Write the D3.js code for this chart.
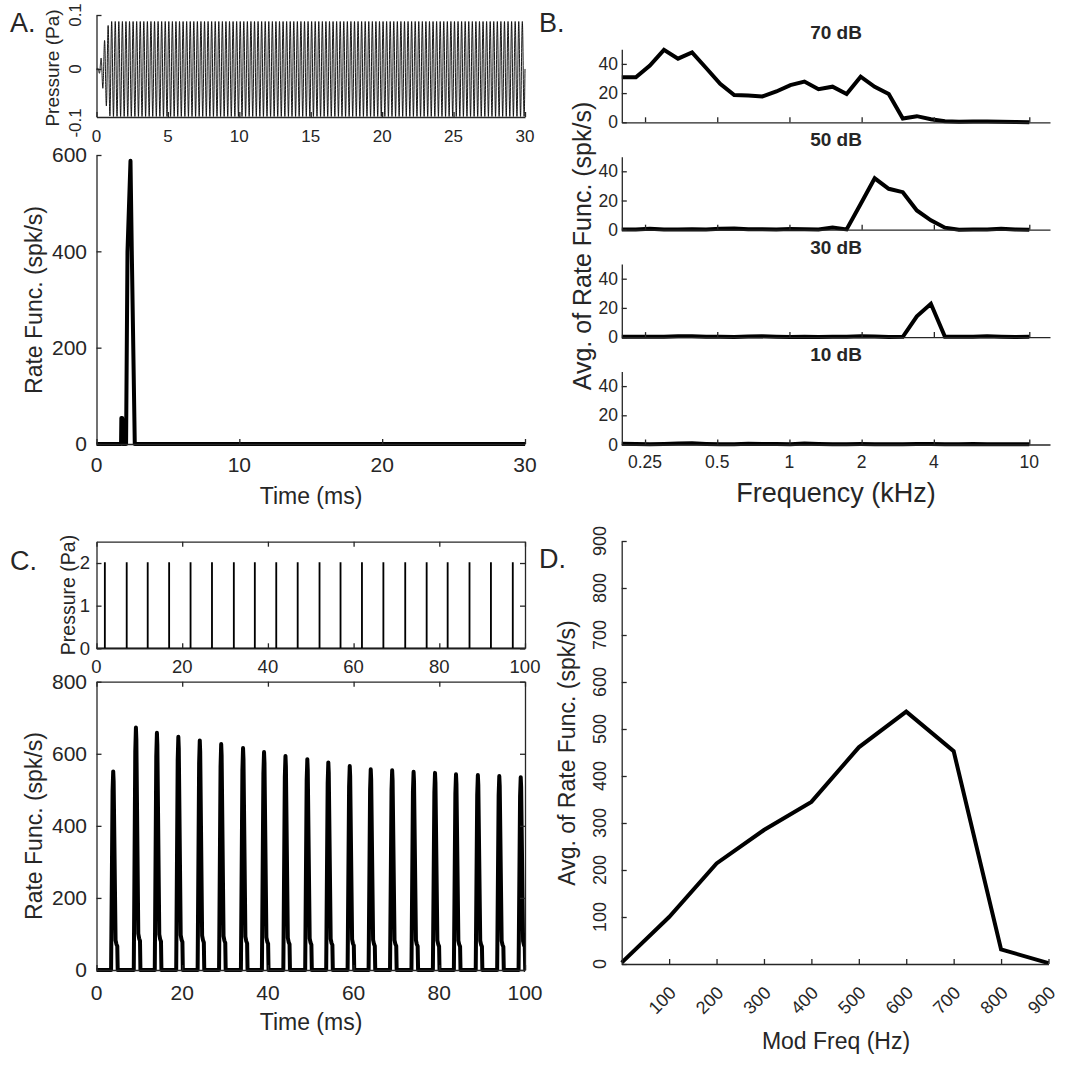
<!DOCTYPE html>
<html>
<head>
<meta charset="utf-8">
<script src="https://cdn.jsdelivr.net/npm/d3@7"></script>
<style>
  body { margin: 0; background: #fff; }
  svg text { font-family: "Liberation Sans", Arial, sans-serif; fill: #262626; }
</style>
</head>
<body>
<svg id="fig" width="1065" height="1065"></svg>
<script>
// ---------- A. tone stimulus + onset response
const toneFreqKHz = 4;      // tone at CF
const toneAmpPa = 0.088;
const toneRampMs = 1;
const pressureTicksA = [-0.1, 0, 0.1];
const timeTicksA = [0, 5, 10, 15, 20, 25, 30];
const rateTimeA = [0, 1.72, 1.74, 1.80, 1.83, 2.07, 2.17, 2.38, 2.47, 2.68, 30];
const rateA     = [0, 0,    54,   54,   0,    0,    400,  588,  400,  0,    0];
const rateTicksA = [0, 200, 400, 600];
const timeTicksA2 = [0, 10, 20, 30];

// ---------- B. tuning curves at 4 levels
const freqB = [0.2, 0.2289, 0.2619, 0.2998, 0.3431, 0.3926, 0.4493, 0.5142, 0.5884, 0.6734,
               0.7706, 0.8819, 1.0093, 1.155, 1.3218, 1.5127, 1.7311, 1.9811, 2.2671, 2.5945,
               2.9691, 3.3979, 3.8885, 4.45, 5.0926, 5.828, 6.6696, 7.6327, 8.7348, 10];
const levelsB = ["70 dB", "50 dB", "30 dB", "10 dB"];
const rate70 = [30.8, 30.8, 38.8, 49.6, 43.6, 47.8, 37.2, 26.4, 18.7, 18.3, 17.7, 21.1, 25.5, 27.9, 22.7,
                24.4, 19.4, 31.2, 24.3, 19.4, 2.6, 4.2, 2.1, 0.8, 0.3, 0.5, 0.5, 0.4, 0.2, 0];
const rate50 = [0.2, 0.1, 0.6, 0.2, 0.1, 0.3, 0.1, 0.7, 0.9, 0.3, 0.3, 0.2, 0.4, 0.3, 0.2,
                1.5, 0.2, 17.6, 35.2, 28, 25.7, 13.2, 6.4, 1.4, 0, 0.2, 0.2, 0.6, 0.1, 0];
const rate30 = [0.3, 0.2, 0.2, 0.2, 0.5, 0.6, 0.3, 0.2, 0.1, 0.4, 0.5, 0.2, 0.1, 0.3, 0.1,
                0.2, 0.2, 0.5, 0.4, 0.1, 0.2, 14.2, 22.8, 0.3, 0.2, 0.3, 0.5, 0.2, 0.1, 0.2];
const rate10 = [0.5, 0.3, 0.2, 0.4, 0.6, 0.8, 0.4, 0.1, 0.2, 0.5, 0.4, 0.3, 0.2, 0.6, 0.3,
                0.1, 0.2, 0.3, 0.2, 0.1, 0.2, 0.4, 0.3, 0.2, 0.1, 0.3, 0.2, 0.2, 0.1, 0.2];
const ratesB = [rate70, rate50, rate30, rate10];
const freqTicksB = [0.25, 0.5, 1, 2, 4, 10];
const rateTicksB = [0, 20, 40];

// ---------- C. click train + response
const clickTimesC = [1.9, 7, 11.9, 16.9, 21.9, 26.9, 32, 36.9, 41.9, 46.9,
                     52, 56.9, 61.9, 66.9, 72, 77, 81.9, 87, 92, 97.1];
const clickAmpC = 2;
const clickWidthMs = 0.1;
const pressureTicksC = [0, 1, 2];
const peakTimesC = [3.9, 9.2, 14.1, 19.1, 24.1, 29.1, 34.2, 39.1, 44.1, 49.2,
                    54.1, 59.1, 64.0, 69.0, 74.0, 79.0, 83.9, 89.0, 94.0, 99.0];
const peakRatesC = [551, 673, 658, 647, 637, 627, 616, 605, 594, 585,
                    576, 566, 557, 554, 550, 547, 543, 541, 538, 535];
// shape of one response pulse around its peak (ms offset, fraction of peak)
const pulseShapeMs   = [-0.5, -0.15, 0, 0.1, 0.55, 0.75, 0.95, 1.05];
const pulseShapeFrac = [0,    0.9,   1, 0.95, 0.15, 0.13, 0.12, 0];
const timeTicksC = [0, 20, 40, 60, 80, 100];
const rateTicksC = [0, 200, 400, 600, 800];

// ---------- D. modulation transfer
const modFreqD = [0, 100, 200, 300, 400, 500, 600, 700, 800, 900];
const avgRateD = [3, 100, 214, 285, 345, 461, 537, 453, 31, 2];
const modTicksD = [100, 200, 300, 400, 500, 600, 700, 800, 900];
const rateTicksD = [0, 100, 200, 300, 400, 500, 600, 700, 800, 900];

const svg = d3.select("#fig");
const axisColor = "#262626";

function axes(g, x, y, o) {
  const [x0, x1] = x.range(), [y0, y1] = y.range();
  g.append("g").attr("transform", `translate(0,${y0})`)
    .call(d3.axisBottom(x).tickValues(o.xTicks).tickSize(-5).tickSizeOuter(0).tickFormat(""));
  g.append("g").attr("transform", `translate(${x0},0)`)
    .call(d3.axisLeft(y).tickValues(o.yTicks).tickSize(-5).tickSizeOuter(0).tickFormat(""));
  if (o.box) {
    g.append("g").attr("transform", `translate(0,${y1})`)
      .call(d3.axisTop(x).tickValues(o.xTicks).tickSize(-5).tickSizeOuter(0).tickFormat(""));
    g.append("g").attr("transform", `translate(${x1},0)`)
      .call(d3.axisRight(y).tickValues(o.yTicks).tickSize(-5).tickSizeOuter(0).tickFormat(""));
  }
  g.selectAll(".domain, .tick line").attr("stroke", axisColor).attr("stroke-width", 1.3);
}

function xLabels(g, x, vals, yBase, size) {
  g.selectAll(null).data(vals).join("text")
    .attr("x", d => x(d)).attr("y", yBase)
    .attr("text-anchor", "middle").attr("font-size", size)
    .text(d => String(d));
}
function yLabels(g, y, vals, xRight, size) {
  g.selectAll(null).data(vals).join("text")
    .attr("x", xRight).attr("y", d => y(d)).attr("dy", "0.35em")
    .attr("text-anchor", "end").attr("font-size", size)
    .text(d => String(d));
}
function yLabelsRot(g, y, vals, xc, size) {
  g.selectAll(null).data(vals).join("text")
    .attr("transform", d => `translate(${xc},${y(d)}) rotate(-90)`).attr("dy", "0.35em")
    .attr("text-anchor", "middle").attr("font-size", size)
    .text(d => String(d));
}
function title(g, txt, xc, yc, size, rot, weight) {
  g.append("text")
    .attr("transform", `translate(${xc},${yc})` + (rot ? " rotate(-90)" : ""))
    .attr("dy", rot ? "0.35em" : 0)
    .attr("text-anchor", "middle").attr("font-size", size)
    .attr("font-weight", weight || "normal")
    .text(txt);
}
function clip(id, x, y) {
  svg.append("clipPath").attr("id", id).append("rect")
    .attr("x", x.range()[0] - 3).attr("y", y.range()[1] - 3)
    .attr("width", x.range()[1] - x.range()[0] + 3)
    .attr("height", y.range()[0] - y.range()[1] + 6);
  return `url(#${id})`;
}

// ===== A. pressure
const gA1 = svg.append("g");
const xA = d3.scaleLinear().domain([0, 30]).range([96.5, 525]);
const yA1 = d3.scaleLinear().domain([-0.089, 0.1]).range([117, 15]);
const toneT = d3.range(0, 30.0001, 0.004);
const tone = toneT.map(t => {
  const env = t < toneRampMs ? Math.pow(Math.sin(Math.PI * t / (2 * toneRampMs)), 2) : 1;
  return [t, toneAmpPa * env * Math.sin(2 * Math.PI * toneFreqKHz * t)];
});
gA1.append("path").datum(tone)
  .attr("d", d3.line().x(d => xA(d[0])).y(d => yA1(d[1])))
  .attr("fill", "none").attr("stroke", "#000").attr("stroke-width", 0.9);
axes(gA1, xA, yA1, {xTicks: timeTicksA, yTicks: [0, 0.1]});
xLabels(gA1, xA, timeTicksA, 142, 17);
yLabelsRot(gA1, yA1, pressureTicksA, 75, 17);
title(gA1, "Pressure (Pa)", 52, 68, 19, true);

// ===== A. rate
const gA2 = svg.append("g");
const yA2 = d3.scaleLinear().domain([0, 600]).range([444, 155]);
gA2.append("path").datum(d3.zip(rateTimeA, rateA))
  .attr("d", d3.line().x(d => xA(d[0])).y(d => yA2(d[1])))
  .attr("fill", "none").attr("stroke", "#000").attr("stroke-width", 4)
  .attr("stroke-linejoin", "round");
axes(gA2, xA, yA2, {xTicks: timeTicksA2, yTicks: rateTicksA});
xLabels(gA2, xA, timeTicksA2, 472, 21);
yLabels(gA2, yA2, rateTicksA, 87, 21);
title(gA2, "Rate Func. (spk/s)", 34, 300, 23, true);
title(gA2, "Time (ms)", 311, 504, 23, false);

// ===== B. tuning at levels
const xB = d3.scaleLog().domain([0.2, 12.2]).range([621.8, 1050]);
const bTop = 49.3, bStep = 107.4, bH = 73;
levelsB.forEach((lev, i) => {
  const g = svg.append("g");
  const top = bTop + i * bStep;
  const y = d3.scaleLinear().domain([0, 50]).range([top + bH, top]);
  g.append("path").datum(d3.zip(freqB, ratesB[i]))
    .attr("d", d3.line().x(d => xB(d[0])).y(d => y(d[1])))
    .attr("fill", "none").attr("stroke", "#000").attr("stroke-width", 4);
  axes(g, xB, y, {xTicks: freqTicksB, yTicks: rateTicksB});
  yLabels(g, y, rateTicksB, 618, 17.5);
  title(g, lev, 836, top - 10.5, 19, false, "bold");
  if (i === levelsB.length - 1) xLabels(g, xB, freqTicksB, 468, 17.5);
});
title(svg, "Avg. of Rate Func. (spk/s)", 582, 246, 25, true);
title(svg, "Frequency (kHz)", 836, 502, 27, false);

// ===== C. click pressure
const gC1 = svg.append("g");
const xC = d3.scaleLinear().domain([0, 100]).range([96.5, 525]);
const yC1 = d3.scaleLinear().domain([0, 2.5]).range([648.3, 541.7]);
const clickPts = [[0, 0]];
clickTimesC.forEach(t => {
  clickPts.push([t, 0], [t, clickAmpC], [t + clickWidthMs, clickAmpC], [t + clickWidthMs, 0]);
});
clickPts.push([100, 0]);
gC1.append("path").datum(clickPts)
  .attr("d", d3.line().x(d => xC(d[0])).y(d => yC1(d[1])))
  .attr("fill", "none").attr("stroke", "#000").attr("stroke-width", 1.4);
axes(gC1, xC, yC1, {xTicks: timeTicksC, yTicks: pressureTicksC, box: true});
xLabels(gC1, xC, timeTicksC, 673, 18.5);
yLabels(gC1, yC1, pressureTicksC, 90, 18.5);
title(gC1, "Pressure (Pa)", 68, 595, 19.5, true);

// ===== C. rate
const gC2 = svg.append("g");
const yC2 = d3.scaleLinear().domain([0, 800]).range([970, 681.7]);
const pulsePts = [[0, 0]];
peakTimesC.forEach((tp, k) => {
  pulseShapeMs.forEach((dt, j) => pulsePts.push([tp + dt, pulseShapeFrac[j] * peakRatesC[k]]));
});
pulsePts.push([100.5, 0]);
gC2.append("path").datum(pulsePts)
  .attr("clip-path", clip("clipC2", xC, yC2))
  .attr("d", d3.line().x(d => xC(d[0])).y(d => yC2(d[1])))
  .attr("fill", "none").attr("stroke", "#000").attr("stroke-width", 4)
  .attr("stroke-linejoin", "round");
axes(gC2, xC, yC2, {xTicks: timeTicksC, yTicks: rateTicksC, box: true});
xLabels(gC2, xC, timeTicksC, 1000, 21);
yLabels(gC2, yC2, rateTicksC, 87, 21);
title(gC2, "Rate Func. (spk/s)", 34, 826, 23, true);
title(gC2, "Time (ms)", 311, 1030, 23, false);

// ===== D. modulation
const gD = svg.append("g");
const xD = d3.scaleLinear().domain([0, 900]).range([621.7, 1048.5]);
const yD = d3.scaleLinear().domain([0, 900]).range([964, 541]);
gD.append("path").datum(d3.zip(modFreqD, avgRateD))
  .attr("d", d3.line().x(d => xD(d[0])).y(d => yD(d[1])))
  .attr("fill", "none").attr("stroke", "#000").attr("stroke-width", 4);
axes(gD, xD, yD, {xTicks: modTicksD, yTicks: rateTicksD});
yLabelsRot(gD, yD, rateTicksD, 600, 18);
gD.selectAll(null).data(modTicksD).join("text")
  .attr("transform", d => `translate(${xD(d) + 8},994) rotate(-45)`)
  .attr("text-anchor", "end").attr("font-size", 18)
  .text(d => String(d));
title(gD, "Avg. of Rate Func. (spk/s)", 567, 753, 23, true);
title(gD, "Mod Freq (Hz)", 836, 1049, 23, false);

// ===== panel letters
const panelLetters = [["A.", 10, 32], ["B.", 539, 32], ["C.", 10, 570], ["D.", 539, 568]];
svg.selectAll(null).data(panelLetters).join("text")
  .attr("x", d => d[1]).attr("y", d => d[2])
  .attr("font-size", 27).text(d => d[0]);
</script>
</body>
</html>
